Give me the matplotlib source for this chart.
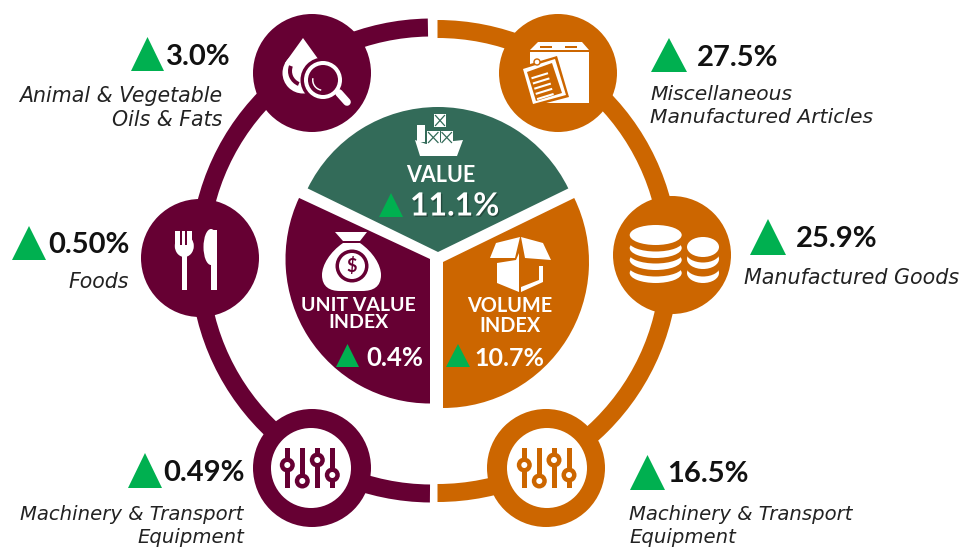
import matplotlib
matplotlib.use("Agg")
import matplotlib.pyplot as plt
import matplotlib.patheffects as pe
from matplotlib.patches import Circle, Ellipse, Polygon, Rectangle, Wedge, PathPatch
from matplotlib.path import Path

# values
categories = ["Animal & Vegetable\nOils & Fats", "Foods", "Machinery & Transport\nEquipment",
              "Miscellaneous\nManufactured Articles", "Manufactured Goods", "Machinery & Transport\nEquipment"]
growth = ["3.0%", "0.50%", "0.49%", "27.5%", "25.9%", "16.5%"]
index_names = ["VALUE", "UNIT VALUE\nINDEX", "VOLUME\nINDEX"]
index_growth = ["11.1%", "0.4%", "10.7%"]

MAROON = "#660033"
ORANGE = "#CC6600"
TEAL = "#336B59"
UP = "#00B050"
FONT = "Lato"

fig = plt.figure(figsize=(9.64, 5.47), dpi=100)
ax = fig.add_axes([0, 0, 1, 1])
ax.set_xlim(0, 964)
ax.set_ylim(547, 0)
ax.axis("off")


def triangle(x0, x1, y0, y1):
    ax.add_patch(Polygon([(x0, y1), (x1, y1), ((x0 + x1) / 2, y0)], fc=UP, ec="none", zorder=6))


def poly(points, color, z=5):
    ax.add_patch(Polygon(points, fc=color, ec="none", zorder=z))


def sliders(xs, knobs, color):
    for x, k in zip(xs, knobs):
        ax.add_patch(Rectangle((x - 2.5, 448), 5, 40, fc=color, ec="none", zorder=5))
        ax.add_patch(Circle((x, k), 7.5, fc=color, ec="none", zorder=6))
        ax.add_patch(Circle((x, k), 3, fc="white", ec="none", zorder=7))


def coins(x, rx, top, bands):
    for b in bands[::-1]:
        ax.add_patch(Ellipse((x, b), rx * 2, 20, fc="white", ec="none", zorder=5))
        ax.add_patch(Ellipse((x, b - 6.5), rx * 2 + 2, 20, fc=ORANGE, ec="none", zorder=5))
    ax.add_patch(Ellipse((x, top), rx * 2, 20, fc="white", ec="none", zorder=5))


# outer ring, two halves
ax.add_patch(Wedge((432, 260.5), 242, 90.5, 269, width=18, fc=MAROON, ec="none"))
ax.add_patch(Wedge((437.5, 261), 241, -90, 90, width=18, fc=ORANGE, ec="none"))

# centre pie
ax.add_patch(Wedge((438, 252), 145, 206, 334, fc=TEAL, ec="none", zorder=2))
ax.add_patch(Wedge((430, 259), 144.5, 90, 205, fc=MAROON, ec="none", zorder=2))
ax.add_patch(Wedge((443, 262), 146, -26, 90, fc=ORANGE, ec="none", zorder=2))

# icon circles
for c, col in [((312, 73), MAROON), ((200, 258), MAROON), ((312, 468), MAROON),
               ((558, 73), ORANGE), ((672, 255), ORANGE), ((546, 468), ORANGE)]:
    ax.add_patch(Circle(c, 59, fc=col, ec="none", zorder=3))
ax.add_patch(Circle((311, 468), 40, fc="white", ec="none", zorder=4))
ax.add_patch(Circle((547, 468), 40, fc="white", ec="none", zorder=4))

# drop and magnifier
ax.add_patch(Circle((303, 73), 20.5, fc="white", ec="none", zorder=5))
poly([(303, 38), (285, 63), (321, 63)], "white")
ax.add_patch(Wedge((304, 71), 16, 112, 201, width=4, fc=MAROON, ec="none", zorder=6))
ax.add_patch(Circle((323, 80), 22.5, fc=MAROON, ec="none", zorder=6))
ax.plot([339, 347], [93, 102], color="white", lw=5.5, solid_capstyle="round", zorder=7)
ax.add_patch(Circle((323, 80), 19, fc="white", ec="none", zorder=7))
ax.add_patch(Circle((323, 80), 15, fc=MAROON, ec="none", zorder=8))
ax.add_patch(Wedge((323, 80), 11, 100, 190, width=1.5, fc="white", ec="none", zorder=9))

# box and clipboard
ax.add_patch(Rectangle((530, 52), 59, 51, fc="white", ec="none", zorder=5))
poly([(538, 42), (582, 42), (589, 50), (530, 50)], "white")
ax.add_patch(Rectangle((540, 46), 12, 2, fc=ORANGE, ec="none", zorder=6))
ax.add_patch(Rectangle((565, 46), 12, 2, fc=ORANGE, ec="none", zorder=6))
poly([(520, 67), (557, 56), (569, 97), (531, 107)], ORANGE, 6)
poly([(523, 69), (555, 59), (566, 95), (533, 104)], "white", 7)
poly([(527, 72), (552, 63), (562, 93), (536, 101)], ORANGE, 8)
for i in range(5):
    ax.plot([532.5 + i * 1.4, 547 + i * 1.4], [78 + i * 5.2, 73.5 + i * 5.2], color="white", lw=1.5, zorder=10)
ax.add_patch(Circle((537, 62), 3, fc="white", ec=ORANGE, lw=1, zorder=11))

# ship
poly([(415, 140), (426, 144), (463, 140), (457, 156), (420, 156)], "white")
ax.add_patch(Rectangle((417, 125), 8, 17, fc="white", ec="none", zorder=5))
for x0, y0, x1, y1 in [(427, 131, 439.5, 144), (440.5, 131, 453, 144), (434, 114, 446, 127)]:
    ax.add_patch(Rectangle((x0, y0), x1 - x0, y1 - y0, fc="white", ec="none", zorder=6))
    ax.plot([x0 + 1.5, x1 - 1.5], [y0 + 1.5, y1 - 1.5], color=TEAL, lw=0.9, zorder=7)
    ax.plot([x0 + 1.5, x1 - 1.5], [y1 - 1.5, y0 + 1.5], color=TEAL, lw=0.9, zorder=7)

# money bag
bag = Path([(343, 243),
            (330, 252), (322, 265), (322, 275),
            (322, 287), (330, 291), (340, 291),
            (362, 291),
            (373, 291), (381, 287), (381, 275),
            (381, 265), (373, 252), (360, 243),
            (343, 243)],
           [Path.MOVETO] + [Path.CURVE4] * 6 + [Path.LINETO] + [Path.CURVE4] * 6 + [Path.CLOSEPOLY])
ax.add_patch(PathPatch(bag, fc="white", ec="none", zorder=5))
poly([(335, 232), (367, 232), (360, 241), (343, 241)], "white")
ax.add_patch(Circle((352, 266), 16.5, fc=MAROON, ec="none", zorder=6))
ax.add_patch(Circle((352, 266), 13, fc="white", ec="none", zorder=7))
ax.text(352, 266, "$", color=MAROON, fontsize=13, fontweight="bold", family=FONT, ha="center", va="center", zorder=8)

# open box
poly([(490, 258), (496, 243), (520, 237), (515, 258)], "white")
poly([(521, 237), (543, 243), (551, 260), (525, 258)], "white")
poly([(497, 263), (516, 260), (519, 253), (519, 292), (497, 283)], "white")
poly([(521, 287), (539, 280), (539, 266), (543, 266), (543, 282), (521, 292)], "white")

# fork and knife
ax.add_patch(Rectangle((181.7, 255), 5.6, 35, fc="white", ec="none", zorder=5))
ax.add_patch(Ellipse((184.3, 246), 19, 22, fc="white", ec="none", zorder=5))
ax.add_patch(Rectangle((174.8, 231), 17.6, 15, fc="white", ec="none", zorder=5))
for x in [180.5, 186]:
    ax.add_patch(Rectangle((x - 0.8, 230), 1.8, 15, fc=MAROON, ec="none", zorder=6))
ax.add_patch(Rectangle((211, 230), 6, 60, fc="white", ec="none", zorder=5))
ax.add_patch(Ellipse((211, 247), 15, 36, fc="white", ec="none", zorder=5))
ax.add_patch(Rectangle((217, 225), 6, 40, fc=MAROON, ec="none", zorder=6))

# coins
coins(655.7, 26, 235, [248, 260, 273])
coins(703, 16, 247, [259, 273])

# sliders
sliders([287.3, 302.3, 317.3, 332.3], [465, 481, 460, 475], MAROON)
sliders([524.3, 539.3, 554, 569], [465, 481, 460, 475], ORANGE)

# outer labels
triangle(131, 164, 37, 71)
triangle(12, 46, 226, 260)
triangle(128, 162, 453, 488)
triangle(651, 687, 38, 72)
triangle(750, 786, 219, 255)
triangle(630, 665, 455, 490)

ax.text(166, 57, growth[0], fontsize=21, fontweight="bold", family=FONT, va="center", color="#111111")
ax.text(48, 245, growth[1], fontsize=21, fontweight="bold", family=FONT, va="center", color="#111111")
ax.text(163, 473, growth[2], fontsize=21, fontweight="bold", family=FONT, va="center", color="#111111")
ax.text(697, 58, growth[3], fontsize=21, fontweight="bold", family=FONT, va="center", color="#111111")
ax.text(796, 239, growth[4], fontsize=21, fontweight="bold", family=FONT, va="center", color="#111111")
ax.text(667, 474, growth[5], fontsize=21, fontweight="bold", family=FONT, va="center", color="#111111")

lab = dict(style="italic", family="DejaVu Sans", color="#222222", va="center", linespacing=1.28)
ax.text(222, 108, categories[0], ha="right", fontsize=14.8, **lab)
ax.text(129, 281.5, categories[1], ha="right", fontsize=14.8, **lab)
ax.text(244, 526, categories[2], ha="right", fontsize=14.1, **lab)
ax.text(650, 106, categories[3], ha="left", fontsize=14.6, **lab)
ax.text(744, 278, categories[4], ha="left", fontsize=14.9, **lab)
ax.text(629, 526, categories[5], ha="left", fontsize=14.1, **lab)

# pie labels
ax.text(441, 175, index_names[0], color="white", fontsize=15.5, fontweight="bold", family=FONT, ha="center", va="center")
ax.text(358, 314, index_names[1], color="white", fontsize=14, fontweight="bold", family=FONT, ha="center", va="center", linespacing=1.05)
ax.text(510, 316, index_names[2], color="white", fontsize=14.3, fontweight="bold", family=FONT, ha="center", va="center", linespacing=1.05)

triangle(379, 403, 193, 217)
triangle(336, 359, 344, 367)
triangle(446, 470, 344, 367)

t = ax.text(410, 206, index_growth[0], color="white", fontsize=23, fontweight="bold", family=FONT, va="center")
t.set_path_effects([pe.SimplePatchShadow(offset=(1, -1), shadow_rgbFace="#1d3d33", alpha=0.7), pe.Normal()])
ax.text(366, 358, index_growth[1], color="white", fontsize=18.5, fontweight="bold", family=FONT, va="center")
ax.text(474, 358, index_growth[2], color="white", fontsize=18, fontweight="bold", family=FONT, va="center")

plt.savefig("out.png", dpi=100)
